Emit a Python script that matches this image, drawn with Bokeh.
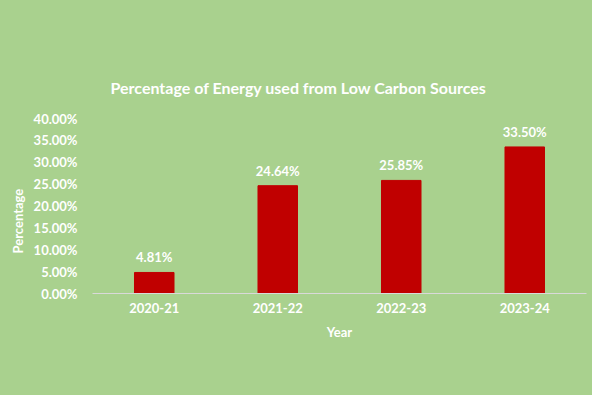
from bokeh.plotting import figure
from bokeh.models import ColumnDataSource, NumeralTickFormatter, Title, FactorRange
from bokeh.core.properties import value
from bokeh.embed import file_html
from bokeh.resources import INLINE

years = ["2020-21", "2021-22", "2022-23", "2023-24"]
shares = [0.0481, 0.2464, 0.2585, 0.3350]
share_labels = ["4.81%", "24.64%", "25.85%", "33.50%"]
y_ticks = [0.0, 0.05, 0.10, 0.15, 0.20, 0.25, 0.30, 0.35, 0.40]

BG = "#A9D18E"
BAR = "#C00000"
FONT = "Lato"

src = ColumnDataSource(dict(year=years, share=shares, label=share_labels))

p = figure(width=592, height=395, x_range=FactorRange(*years, range_padding=0),
           y_range=(0, 0.40), output_backend="svg", toolbar_location=None,
           min_border_left=92, min_border_right=6, min_border_top=118,
           min_border_bottom=102)
# paint the green behind a transparent canvas (avoids SVG seams round the frame)
p.styles = {"background-color": BG}
p.background_fill_color = None
p.border_fill_color = None
p.outline_line_color = None
p.grid.visible = False

p.vbar(x="year", top="share", width=0.32, source=src, fill_color=BAR, line_color=BAR)
p.text(x="year", y="share", text="label", source=src, y_offset=-7,
       text_align="center", text_baseline="bottom", text_color="white",
       text_font=value(FONT), text_font_style="bold", text_font_size="13px")

p.yaxis.ticker = y_ticks
p.yaxis.formatter = NumeralTickFormatter(format="0.00%")
p.yaxis.axis_line_color = None
p.yaxis.major_tick_line_color = None
p.yaxis.minor_tick_line_color = None
p.yaxis.major_label_standoff = 9

p.xaxis.axis_line_color = "#D9D9D9"
p.xaxis.axis_line_width = 1
p.xaxis.major_tick_line_color = None
p.xaxis.minor_tick_line_color = None
p.xaxis.major_label_standoff = 3
p.xaxis.axis_label = "Year"
p.xaxis.axis_label_standoff = 8

for ax in (p.xaxis, p.yaxis):
    ax.major_label_text_color = "white"
    ax.major_label_text_font = FONT
    ax.major_label_text_font_style = "bold"
    ax.major_label_text_font_size = "13px"
    ax.axis_label_text_color = "white"
    ax.axis_label_text_font = FONT
    ax.axis_label_text_font_style = "bold"
    ax.axis_label_text_font_size = "13px"

title = Title(text="Percentage of Energy used from Low Carbon Sources",
              align="left", offset=18, standoff=44, text_color="white",
              text_font=FONT, text_font_style="bold", text_font_size="16px")
p.add_layout(title, "above")

ylab = Title(text="Percentage", align="left", offset=40, standoff=10,
             text_color="white", text_font=FONT, text_font_style="bold",
             text_font_size="13px")
p.add_layout(ylab, "left")

open("out.html", "w").write(file_html(p, INLINE))
